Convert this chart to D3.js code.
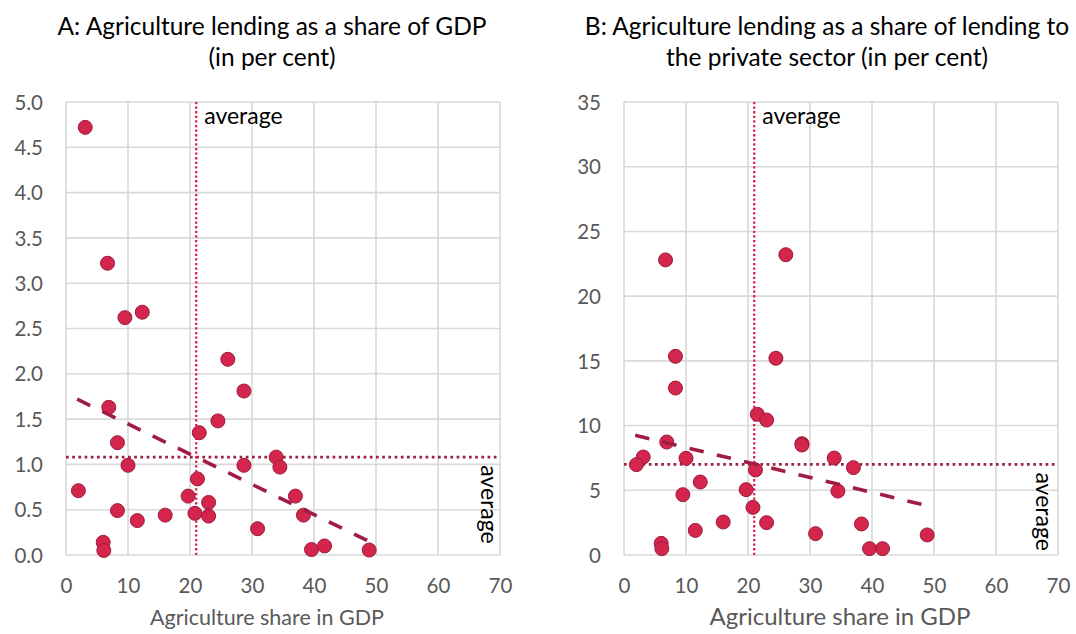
<!DOCTYPE html>
<html><head><meta charset="utf-8">
<script src="https://cdn.jsdelivr.net/npm/d3@7"></script>
<style>
body{margin:0;background:#fff}
svg{display:block;font-family:Lato, "Open Sans", sans-serif}
</style>
</head><body>
<svg id="chart" width="1076" height="634"></svg>
<script>
// ---- data ----
const agriShare      = [3.1, 6.7, 9.5, 12.3, 26.1, 28.7, 6.9, 24.5, 21.5, 8.3, 10.0, 28.7, 33.9, 34.5, 21.2, 2.0, 19.7, 23.0, 8.3, 20.8, 23.0, 16.0, 11.5, 30.9, 6.0, 6.1, 37.0, 38.3, 39.6, 41.7, 48.9];
const lendingGDP     = [4.72, 3.22, 2.62, 2.68, 2.16, 1.81, 1.63, 1.48, 1.35, 1.24, 0.99, 0.99, 1.08, 0.97, 0.84, 0.71, 0.65, 0.58, 0.49, 0.46, 0.43, 0.44, 0.38, 0.29, 0.14, 0.05, 0.65, 0.44, 0.06, 0.10, 0.055];
const lendingPrivate = [7.57, 22.8, 4.66, 5.64, 23.2, 8.6, 8.73, 15.2, 10.87, 15.35, 7.47, 8.5, 7.49, 4.94, 6.57, 6.98, 5.05, 10.43, 12.9, 3.68, 2.50, 2.55, 1.9, 1.65, 0.9, 0.49, 6.75, 2.40, 0.49, 0.49, 1.55];
const xTicks  = [0, 10, 20, 30, 40, 50, 60, 70];
const yTicksA = [0, 0.5, 1.0, 1.5, 2.0, 2.5, 3.0, 3.5, 4.0, 4.5, 5.0];
const yTicksB = [0, 5, 10, 15, 20, 25, 30, 35];
const averageX = [21.0, 21.0];          // panel A, panel B
const averageY = [1.08, 7.0];           // panel A, panel B
const trendA = [[1.8, 1.72], [48.9, 0.15]];
const trendB = [[1.8, 9.25], [48.9, 3.81]];
const titlesA = ["A: Agriculture lending as a share of GDP", "(in per cent)"];
const titlesB = ["B: Agriculture lending as a share of lending to", "the private sector (in per cent)"];
const xTitle = "Agriculture share in GDP";
const avgLabel = "average";

// ---- styles / layout ----
const C = {
  fill: "#d4264c", stroke: "#9c1b3c", trend: "#a01c42",
  avgV: "#dc2450", avgH: "#9e1f40", grid: "#d9d9d9", tick: "#595959"
};
const svg = d3.select("#chart");

function panel(opt) {
  const g = svg.append("g");
  const x = d3.scaleLinear().domain([0, 70]).range([opt.left, opt.right]);
  const y = d3.scaleLinear().domain([0, opt.ymax]).range([555, 102]);

  // grid
  g.append("g").selectAll("line").data(opt.yTicks).join("line")
    .attr("x1", opt.left).attr("x2", opt.right)
    .attr("y1", d => y(d)).attr("y2", d => y(d))
    .attr("stroke", C.grid).attr("stroke-width", 1.6);
  g.append("g").selectAll("line").data(xTicks).join("line")
    .attr("x1", d => x(d)).attr("x2", d => x(d))
    .attr("y1", y(0)).attr("y2", y(opt.ymax))
    .attr("stroke", C.grid).attr("stroke-width", 1.6);

  // axes labels via d3 axes
  const ax = g.append("g").attr("transform", `translate(0,${586})`)
    .call(d3.axisBottom(x).tickValues(xTicks).tickSize(0).tickPadding(0));
  ax.select(".domain").remove();
  ax.selectAll("text").attr("fill", C.tick).attr("font-size", 20.5)
    .attr("font-family", "Lato").attr("dy", "0.35em").attr("y", 0);

  const ay = g.append("g").attr("transform", `translate(${opt.left - 23},0)`)
    .call(d3.axisLeft(y).tickValues(opt.yTicks).tickFormat(opt.fmt).tickSize(0).tickPadding(0));
  ay.select(".domain").remove();
  ay.selectAll("text").attr("fill", C.tick).attr("font-size", 20.5)
    .attr("font-family", "Lato").attr("dy", "0.35em").attr("x", 0);

  // average lines
  g.append("line")
    .attr("x1", x(0)).attr("x2", x(70))
    .attr("y1", y(opt.avgY)).attr("y2", y(opt.avgY))
    .attr("stroke", C.avgH).attr("stroke-width", 2.7).attr("stroke-dasharray", "2.7,3.5");
  g.append("line")
    .attr("x1", x(opt.avgX)).attr("x2", x(opt.avgX))
    .attr("y1", y(0)).attr("y2", y(opt.ymax))
    .attr("stroke", C.avgV).attr("stroke-width", 2.3).attr("stroke-dasharray", "2.3,2.3");

  // points
  g.append("g").selectAll("circle").data(agriShare.map((v, i) => [v, opt.values[i]])).join("circle")
    .attr("cx", d => x(d[0])).attr("cy", d => y(d[1])).attr("r", 7)
    .attr("fill", C.fill).attr("stroke", C.stroke).attr("stroke-width", 1);

  // trend line
  g.append("path").datum(opt.trend)
    .attr("d", d3.line().x(d => x(d[0])).y(d => y(d[1])))
    .attr("fill", "none").attr("stroke", C.trend).attr("stroke-width", 3.6)
    .attr("stroke-dasharray", "14.5,13.5");

  // average labels
  g.append("text").attr("x", x(opt.avgX) + 8).attr("y", 116).attr("dy", "0.35em")
    .attr("font-size", 23).attr("fill", "#000").text(avgLabel);
  g.append("text")
    .attr("transform", `translate(${opt.rotX},${y(opt.avgY) + opt.rotOff}) rotate(90)`)
    .attr("dominant-baseline", "central")
    .attr("font-size", 23).attr("fill", "#000").text(avgLabel);

  // titles
  opt.titles.forEach((t, i) => {
    g.append("text").attr("x", opt.titleX).attr("y", 35 + i * 31)
      .attr("text-anchor", "middle").attr("font-size", 24.5).attr("fill", "#000").text(t);
  });
  g.append("text").attr("x", opt.xTitleX).attr("y", 617).attr("dy", "0.35em")
    .attr("text-anchor", "middle").attr("font-size", opt.xTitleSize).attr("fill", C.tick).text(xTitle);
}

panel({left: 66, right: 500, ymax: 5, yTicks: yTicksA, fmt: d3.format(".1f"),
  values: lendingGDP, avgX: averageX[0], avgY: averageY[0], trend: trendA,
  titles: titlesA, titleX: 272, xTitleX: 267, xTitleSize: 21.5, rotX: 490, rotOff: 8});
panel({left: 624, right: 1058, ymax: 35, yTicks: yTicksB, fmt: d3.format("d"),
  values: lendingPrivate, avgX: averageX[1], avgY: averageY[1], trend: trendB,
  titles: titlesB, titleX: 827, xTitleX: 840, xTitleSize: 24, rotX: 1045, rotOff: 8});
</script>
</body></html>
